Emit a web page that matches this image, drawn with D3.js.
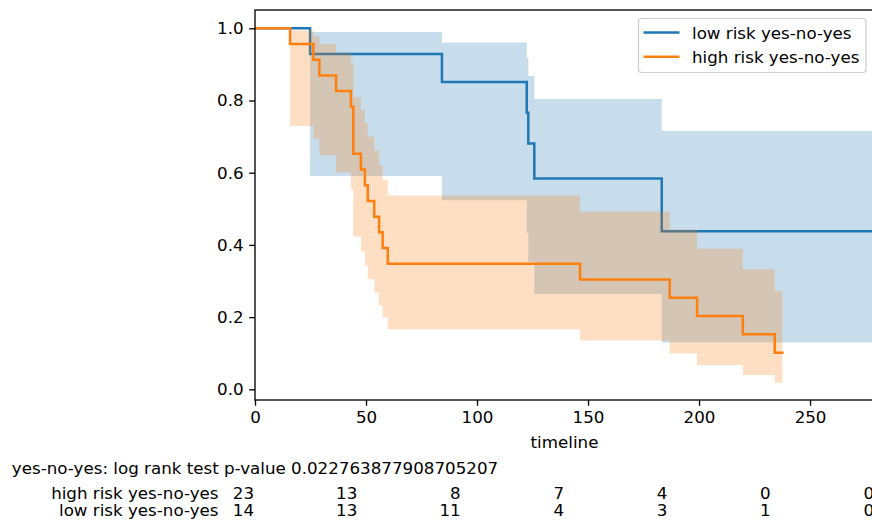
<!DOCTYPE html>
<html><head><meta charset="utf-8">
<script src="https://cdn.jsdelivr.net/npm/d3@7"></script>
<style>
body{margin:0;background:#fff}
svg{display:block}
text{font-family:"DejaVu Sans",sans-serif;fill:#000}
</style>
</head><body>
<svg id="c" width="872" height="523"></svg>
<script>
// ---- data ----
const lowTimes  = [0, 24.8, 84.2, 122.4, 123.1, 125.8, 183.2, 278.8];
const lowSurv   = [1, 0.9286, 0.8512, 0.7661, 0.6810, 0.5837, 0.4378, 0.4378];
const lowUpper  = [1, 0.9896, 0.9607, 0.9186, 0.8676, 0.8044, 0.7157, 0.7157];
const lowLower  = [1, 0.5908, 0.5234, 0.4333, 0.3536, 0.2640, 0.1300, 0.1300];

const highTimes = [0, 15.8, 26.3, 29.0, 36.5, 43.2, 44.3, 47.7, 49.5, 50.8, 53.7, 55.9, 57.5, 59.8, 146.4, 186.8, 199.1, 219.7, 234.1, 237.5];
const highSurv  = [1, 0.9565, 0.9130, 0.8696, 0.8261, 0.7826, 0.6522, 0.6087, 0.5652, 0.5217, 0.4783, 0.4348, 0.3913, 0.3478, 0.3043, 0.2536, 0.2029, 0.1522, 0.1014, 0.1014];
const highUpper = [1, 0.9938, 0.9775, 0.9560, 0.9309, 0.9032, 0.8085, 0.7738, 0.7376, 0.7001, 0.6613, 0.6213, 0.5799, 0.5371, 0.4928, 0.4426, 0.3894, 0.3327, 0.2719, 0.2719];
const highLower = [1, 0.7293, 0.6950, 0.6481, 0.6006, 0.5542, 0.4235, 0.3827, 0.3432, 0.3051, 0.2683, 0.2328, 0.1988, 0.1663, 0.1354, 0.0994, 0.0674, 0.0399, 0.0180, 0.0180];

const seriesLabels = ["low risk yes-no-yes", "high risk yes-no-yes"];
const xTicks = [0, 50, 100, 150, 200, 250];
const yTicks = [0, 0.2, 0.4, 0.6, 0.8, 1.0];
const xLabel = "timeline";
const pValueText = "yes-no-yes: log rank test p-value 0.022763877908705207";
const atRiskTicks = [0, 50, 100, 150, 200, 250, 300];
const atRiskRowLabels = ["high risk yes-no-yes", "low risk yes-no-yes"];
const highAtRisk = [23, 13, 8, 7, 4, 0, 0];
const lowAtRisk  = [14, 13, 11, 4, 3, 1, 0];

// ---- layout ----
const FS = 16.7;
const L = 255, R = 874, T = 10, B = 400;
const x = d3.scaleLinear().domain([0, 278.8]).range([L, R]);
const y = d3.scaleLinear().domain([-0.0296, 1.0507]).range([B, T]);
const xr = d3.scaleLinear().domain([0, 300]).range([L - 1, R]);

const colors = ["#1f77b4", "#ff7f0e"];
const svg = d3.select("#c");

svg.append("defs").append("clipPath").attr("id","clip")
  .append("rect").attr("x",L).attr("y",T).attr("width",R-L).attr("height",B-T);
const plot = svg.append("g").attr("clip-path","url(#clip)");

function zipS(t, v){ return t.map((tt,i)=>({t:tt, v:v[i]})); }
function zipB(t, lo, hi){ return t.map((tt,i)=>({t:tt, lo:lo[i], hi:hi[i]})); }

const line = d3.line().x(d=>x(d.t)).y(d=>y(d.v)).curve(d3.curveStepAfter);
const area = d3.area().x(d=>x(d.t)).y0(d=>y(d.lo)).y1(d=>y(d.hi)).curve(d3.curveStepAfter);

const series = [
  {t: lowTimes, s: lowSurv, lo: lowLower, hi: lowUpper},
  {t: highTimes, s: highSurv, lo: highLower, hi: highUpper}
];
series.forEach((se, i) => {
  plot.append("path").attr("d", line(zipS(se.t, se.s)))
    .attr("fill","none").attr("stroke",colors[i]).attr("stroke-width",2.5)
    .attr("stroke-linejoin","miter").attr("stroke-linecap","square");
  plot.append("path").attr("d", area(zipB(se.t, se.lo, se.hi)))
    .attr("fill",colors[i]).attr("fill-opacity",0.25).attr("stroke","none");
});

// ---- axes ----
const xAxis = d3.axisBottom(x).tickValues(xTicks).tickSize(5.8).tickPadding(5.2).tickFormat(d3.format("d"));
const gx = svg.append("g").attr("transform",`translate(0,${B})`).call(xAxis);
const yAxis = d3.axisLeft(y).tickValues(yTicks).tickSize(5.8).tickPadding(5.6).tickFormat(d3.format(".1f"));
const gy = svg.append("g").attr("transform",`translate(${L},0)`).call(yAxis);
[gx, gy].forEach(g => {
  g.select(".domain").remove();
  g.selectAll(".tick line").attr("stroke","#000").attr("stroke-width",1.33);
  g.selectAll(".tick text").attr("font-size",FS).attr("font-family","DejaVu Sans").attr("fill","#000");
});

// frame
svg.append("rect").attr("x",L).attr("y",T).attr("width",R-L).attr("height",B-T)
  .attr("fill","none").attr("stroke","#000").attr("stroke-width",1.33);

svg.append("text").attr("x",(L+R)/2).attr("y",448).attr("text-anchor","middle")
  .attr("font-size",FS).text(xLabel);

// ---- legend ----
const lg = svg.append("g");
lg.append("rect").attr("x",638.5).attr("y",18.5).attr("width",227.5).attr("height",54)
  .attr("rx",3).attr("fill","#fff").attr("fill-opacity",0.8).attr("stroke","#cccccc").attr("stroke-width",1.2);
const legendRowsY = [32.5, 56.8];
seriesLabels.forEach((lab, i) => {
  lg.append("line").attr("x1",643.5).attr("x2",679.5).attr("y1",legendRowsY[i]).attr("y2",legendRowsY[i])
    .attr("stroke",colors[i]).attr("stroke-width",2.5);
  lg.append("text").attr("x",692).attr("y",legendRowsY[i]).attr("dy","0.36em")
    .attr("font-size",FS).text(lab);
});

// ---- p-value and at-risk table ----
svg.append("text").attr("x",L).attr("y",474).attr("text-anchor","middle")
  .attr("font-size",FS).text(pValueText);

const rowY = [498.5, 515.5];
atRiskRowLabels.forEach((lab, i) => {
  svg.append("text").attr("x",218.5).attr("y",rowY[i]).attr("text-anchor","end")
    .attr("font-size",FS).text(lab);
});
[highAtRisk, lowAtRisk].forEach((row, i) => {
  svg.selectAll(null).data(row).enter().append("text")
    .attr("x",(d,j)=>xr(atRiskTicks[j])).attr("y",rowY[i]).attr("text-anchor","end")
    .attr("font-size",FS).text(d=>d);
});
</script>
</body></html>
